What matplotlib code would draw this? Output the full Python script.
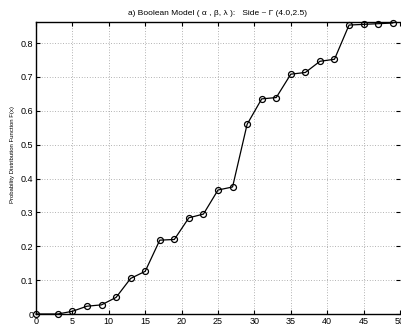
import numpy as np
import matplotlib
matplotlib.use('Agg')
import matplotlib.pyplot as plt

plt.rcParams['font.family'] = ['Liberation Sans', 'DejaVu Sans']

# side length x and estimated F(x)
side = [0, 3, 5, 7, 9, 11, 13, 15, 17, 19, 21, 23, 25, 27, 29, 31, 33, 35, 37, 39, 41, 43, 45, 47, 49]
cdf = [0.0, 0.0, 0.008, 0.023, 0.027, 0.049, 0.105, 0.126, 0.218, 0.220, 0.284, 0.295, 0.366, 0.375,
       0.560, 0.635, 0.639, 0.708, 0.713, 0.746, 0.752, 0.853, 0.855, 0.857, 0.859]
xticks = np.arange(0, 51, 5)
yticks = [0, 0.1, 0.2, 0.3, 0.4, 0.5, 0.6, 0.7, 0.8]
ytick_labels = ['0', '0.1', '0.2', '0.3', '0.4', '0.5', '0.6', '0.7', '0.8']

W, H = 402, 326
fig = plt.figure(figsize=(W / 100, H / 100), dpi=100)
ax = fig.add_axes([36 / W, (H - 314) / H, 364 / W, 292 / H])

ax.plot(side, cdf, color='black', linewidth=0.9, marker='o', markersize=4.3,
        markerfacecolor='none', markeredgecolor='black', markeredgewidth=0.9, clip_on=False, zorder=3)

ax.set_xlim(0, 50)
ax.set_ylim(0, 0.862)
ax.set_xticks(xticks)
ax.set_yticks(yticks)
ax.set_yticklabels(ytick_labels)
ax.grid(True, linestyle=(0, (1, 2.2)), color='#999999', linewidth=0.6)
ax.tick_params(direction='in', top=True, right=True, length=3, width=0.8, labelsize=6.5, pad=2)
for s in ['left', 'bottom', 'top']:
    ax.spines[s].set_linewidth(1.0)
ax.spines['right'].set_visible(False)

ax.set_title(u'a) Boolean Model ( \u03b1 , \u03b2, \u03bb ):   Side ~ \u0393 (4.0,2.5)', fontsize=6, pad=5)
ax.set_ylabel('Probability Distribution Function F(x)', fontsize=4.3)
ax.yaxis.set_label_coords(-0.058, 0.545)

fig.savefig('out.png', dpi=100)
